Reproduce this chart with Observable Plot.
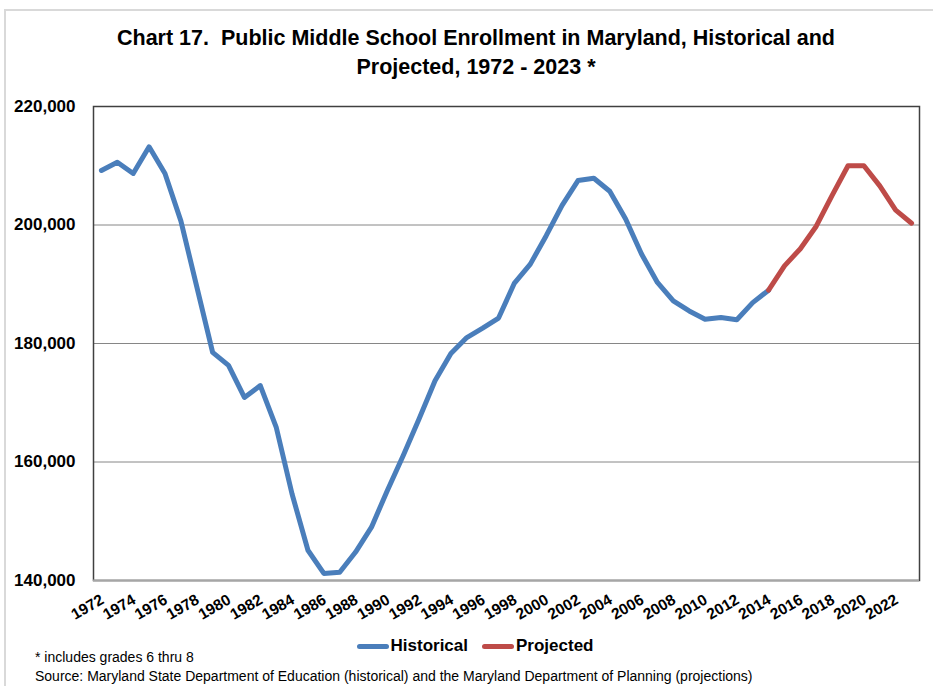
<!DOCTYPE html>
<html>
<head>
<meta charset="utf-8">
<script src="https://cdn.jsdelivr.net/npm/d3@7"></script>
<script src="https://cdn.jsdelivr.net/npm/@observablehq/plot@0.6"></script>
<style>
  html, body { margin: 0; padding: 0; background: #fff; }
  body { width: 933px; height: 686px; position: relative; overflow: hidden; font-family: "Liberation Sans", Arial, sans-serif; }
  #border { position: absolute; left: 4px; top: 9px; width: 940px; height: 700px; border-left: 2px solid #d9d9d9; border-top: 2px solid #d9d9d9; }
  #title { position: absolute; left: 0; top: 24px; width: 952px; text-align: center; font-weight: bold; font-size: 21.5px; line-height: 29px; color: #000; }
  #chart { position: absolute; left: 0; top: 90px; }
  #legend { position: absolute; left: 0; top: 636px; width: 950px; display: flex; justify-content: center; align-items: center; font-weight: bold; font-size: 17px; color: #000; }
  .sw { display: inline-block; width: 32px; height: 5px; border-radius: 3px; margin-right: 2px; }
  .item { display: flex; align-items: center; margin: 0 7px; }
  #notes { position: absolute; left: 35px; top: 648px; font-size: 14px; line-height: 19px; color: #000; }
</style>
</head>
<body>
<div id="border"></div>
<div id="title">Chart 17.&nbsp; Public Middle School Enrollment in Maryland, Historical and<br>Projected, 1972 - 2023 *</div>
<div id="chart"></div>
<div id="legend">
  <span class="item"><span class="sw" style="background:#4A7EBB"></span>Historical</span>
  <span class="item"><span class="sw" style="background:#BE4B48"></span>Projected</span>
</div>
<div id="notes">* includes grades 6 thru 8<br>Source: Maryland State Department of Education (historical) and the Maryland Department of Planning (projections)</div>
<script>
const histYears = [1972,1973,1974,1975,1976,1977,1978,1979,1980,1981,1982,1983,1984,1985,1986,1987,1988,1989,1990,1991,1992,1993,1994,1995,1996,1997,1998,1999,2000,2001,2002,2003,2004,2005,2006,2007,2008,2009,2010,2011,2012,2013,2014];
const histValues = [209200,210600,208700,213200,208700,200700,189600,178500,176300,170900,172900,165900,154600,145100,141200,141400,144800,149000,155200,161100,167300,173700,178300,181000,182600,184300,190200,193400,198200,203300,207500,207900,205700,201000,195100,190300,187200,185500,184100,184400,184000,186900,189000];
const projYears = [2014,2015,2016,2017,2018,2019,2020,2021,2022,2023];
const projValues = [189000,193100,196000,199800,205000,210000,210000,206600,202500,200300];
const yTicks = [140000,160000,180000,200000,220000];
const xTicks = d3.range(1972, 2023, 2);

const hist = histYears.map((y, i) => ({year: y, value: histValues[i]}));
const proj = projYears.map((y, i) => ({year: y, value: projValues[i]}));

const chart = Plot.plot({
  width: 933,
  height: 540,
  marginTop: 16,
  marginBottom: 50,
  marginLeft: 93,
  marginRight: 14,
  style: {fontFamily: "'Liberation Sans', Arial, sans-serif", color: "#000", background: "transparent"},
  x: {domain: [1971.5, 2023.5]},
  y: {domain: [140000, 220000]},
  marks: [
    Plot.gridY([160000, 180000, 200000], {stroke: "#868686", strokeOpacity: 1, strokeWidth: 1}),
    Plot.frame({stroke: "#404040", strokeWidth: 1.5}),
    Plot.ruleY([140000], {stroke: "#a6a6a6", strokeWidth: 2}),
    Plot.axisY({ticks: yTicks, tickSize: 0, tickPadding: 18, tickFormat: d3.format(","), fontSize: 17, fontWeight: "bold", label: null}),
    Plot.axisX({ticks: xTicks, tickSize: 0, tickPadding: 18, tickRotate: -30, tickFormat: d => String(d), fontSize: 15.5, fontWeight: "bold", dx: 1, label: null}),
    Plot.line(hist, {x: "year", y: "value", stroke: "#4A7EBB", strokeWidth: 5, strokeLinejoin: "round", strokeLinecap: "round"}),
    Plot.line(proj, {x: "year", y: "value", stroke: "#BE4B48", strokeWidth: 5, strokeLinejoin: "round", strokeLinecap: "round"})
  ]
});
document.getElementById("chart").appendChild(chart);
</script>
</body>
</html>
